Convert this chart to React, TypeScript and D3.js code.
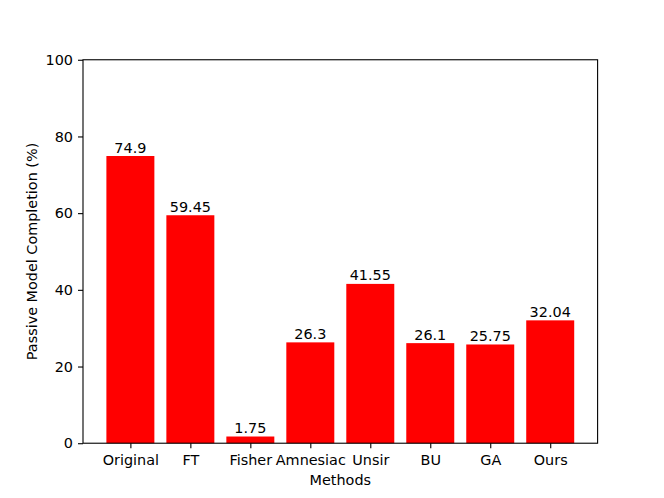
import React, { useRef, useEffect } from 'react';
import * as d3 from 'd3';

const categories = ['Original', 'FT', 'Fisher', 'Amnesiac', 'Unsir', 'BU', 'GA', 'Ours'];
const values = [74.9, 59.45, 1.75, 26.3, 41.55, 26.1, 25.75, 32.04];
const yTicks = [0, 20, 40, 60, 80, 100];

const App = () => {
    const ref = useRef<SVGSVGElement>(null);

    useEffect(() => {
        const W = 664, H = 498;
        const svg = d3.select(ref.current);
        svg.selectAll('*').remove();
        const margin = { left: 83, right: 66.4, top: 59.76, bottom: 54.78 };
        const width = W - margin.left - margin.right;
        const height = H - margin.top - margin.bottom;
        const fontSize = 14.4;
        const font = 'DejaVu Sans, sans-serif';

        const g = svg.append('g')
            .attr('transform', 'translate(' + margin.left + ',' + margin.top + ')');

        // linear x so bars match matplotlib's margins
        const x = d3.scaleLinear().domain([-0.79, 7.79]).range([0, width]);
        const y = d3.scaleLinear().domain([0, 100]).range([height, 0]);
        const bw = x(0.8) - x(0);

        g.selectAll('rect.bar')
            .data(values)
            .enter().append('rect')
            .attr('class', 'bar')
            .attr('x', (d, i) => x(i - 0.4))
            .attr('y', d => y(d))
            .attr('width', bw)
            .attr('height', d => y(0) - y(d))
            .attr('fill', '#ff0000');

        g.selectAll('text.val')
            .data(values)
            .enter().append('text')
            .attr('class', 'val')
            .attr('x', (d, i) => x(i))
            .attr('y', d => y(d) - 3.4)
            .attr('text-anchor', 'middle')
            .style('font-family', font)
            .style('font-size', fontSize + 'px')
            .text(d => String(d));

        // axes frame
        g.append('rect')
            .attr('width', width).attr('height', height)
            .attr('fill', 'none').attr('stroke', '#000').attr('stroke-width', 1.1);

        const xAxis = g.append('g')
            .attr('transform', 'translate(0,' + height + ')')
            .call(d3.axisBottom(x).tickValues(d3.range(categories.length))
                .tickFormat((d: any) => categories[d]).tickSize(5).tickPadding(7));
        const yAxis = g.append('g')
            .call(d3.axisLeft(y).tickValues(yTicks).tickSize(5).tickPadding(5));

        [xAxis, yAxis].forEach(a => {
            a.select('.domain').remove();
            a.selectAll('line').attr('stroke', '#000').attr('stroke-width', 1.1);
            a.selectAll('text')
                .style('font-family', font)
                .style('font-size', fontSize + 'px')
                .attr('fill', '#000');
        });

        g.append('text')
            .attr('x', width / 2)
            .attr('y', height + 42)
            .attr('text-anchor', 'middle')
            .style('font-family', font)
            .style('font-size', fontSize + 'px')
            .text('Methods');

        g.append('text')
            .attr('transform', 'rotate(-90)')
            .attr('x', -height / 2)
            .attr('y', -46)
            .attr('text-anchor', 'middle')
            .style('font-family', font)
            .style('font-size', fontSize + 'px')
            .text('Passive Model Completion (%)');
    }, []);

    return (
        <svg ref={ref} width={664} height={498} style={{ position: 'absolute', left: 0, top: 0, background: '#fff' }}></svg>
    );
};

export default App;
